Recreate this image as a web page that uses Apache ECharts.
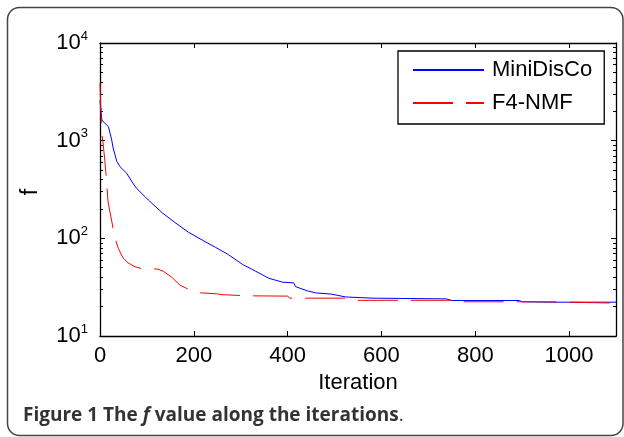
<!DOCTYPE html>
<html>
<head>
<meta charset="utf-8">
<script src="https://cdn.jsdelivr.net/npm/echarts@6/dist/echarts.min.js"></script>
<style>
html,body{margin:0;padding:0;background:#fff;}
#chart{width:624px;height:437px;}
</style>
</head>
<body>
<div id="chart"></div>
<script>
// ---- data ----
const seriesNames = ['MiniDisCo', 'F4-NMF'];
const miniDisCoIter = [0, 2, 4, 7, 18, 25, 28, 36, 43, 57, 68, 78, 96, 103, 133, 160, 188, 218, 246, 274, 304, 332, 360, 389, 413, 417, 442, 460, 492, 524, 582, 738, 750, 894, 900, 956, 1100];
const miniDisCoVal  = [2600, 2000, 1620, 1600, 1390, 1015, 841, 610, 540, 463, 380, 325, 267, 247, 182, 145, 116, 96, 81, 68, 54, 46, 39, 35.6, 35, 32, 29, 27.6, 26.9, 25.1, 24.4, 24.0, 23.1, 23.1, 22.4, 22.2, 22.2];
const f4nmfIter = [0, 1, 2, 3, 4, 6, 8, 10, 12, 14, 15, 17, 20, 25, 32, 39, 49, 60, 75, 90, 102, 122, 135, 153, 171, 196, 214, 250, 260, 314, 400, 405, 524, 540, 760, 770, 956, 960, 1100];
const f4nmfVal  = [3900, 2600, 2000, 1540, 1150, 1000, 800, 650, 500, 400, 330, 240, 200, 150, 100, 79, 63, 56, 51, 49, 49, 48.5, 46, 40, 33, 29, 27.7, 27, 26.5, 25.8, 25.6, 24.4, 24.4, 23.2, 23.2, 22.4, 22.4, 21.7, 21.7];
const xTickValues = [0, 200, 400, 600, 800, 1000];
const yMajorTicks = [10, 100, 1000, 10000];
const yMinorTicks = [20, 30, 40, 50, 60, 70, 80, 90, 200, 300, 400, 500, 600, 700, 800, 900, 2000, 3000, 4000, 5000, 6000, 7000, 8000, 9000];
const xLabel = 'Iteration';
const yLabel = 'f';

const pairs = (xs, ys) => xs.map((x, i) => [x, ys[i]]);

const FONT = 'Liberation Sans';
const axisLineStyle = { color: '#000', width: 1.3 };

function yAxisDef(pos, showLabels, ticks, len, showLine) {
  return {
    type: 'log', logBase: 10, min: 10, max: 10000, position: pos,
    gridIndex: 0,
    axisLine: { show: showLine, lineStyle: axisLineStyle },
    axisTick: { show: true, inside: true, length: len, customValues: ticks, lineStyle: { color: '#000', width: 1 } },
    minorTick: { show: false },
    splitLine: { show: false },
    axisLabel: showLabels ? {
      show: true, margin: 12, customValues: yMajorTicks,
      formatter: function (v) { return '{b|10}{s|' + Math.round(Math.log10(v)) + '}'; },
      rich: {
        b: { fontFamily: FONT, fontSize: 22, color: '#000' },
        s: { fontFamily: FONT, fontSize: 13, color: '#000', padding: [0, 0, 14, 0] }
      }
    } : { show: false }
  };
}

const option = {
  backgroundColor: '#fff',
  animation: false,
  grid: { left: 100, top: 43, right: 8, bottom: 101, containLabel: false },
  graphic: [
    { type: 'rect', shape: { x: 7.5, y: 7.5, width: 615.5, height: 428, r: 12 },
      style: { fill: 'none', stroke: '#444', lineWidth: 1.5 }, z: -1 },
    { type: 'text', x: 31, y: 192, rotation: Math.PI / 2,
      style: { text: yLabel, fontFamily: FONT, fontSize: 23, fill: '#000', align: 'center', verticalAlign: 'middle' } },
    { type: 'text', left: 23, top: 406,
      style: {
        text: '{b|Figure 1 The }{i|f}{b| value along the iterations}{n|.}',
        rich: {
          b: { fontFamily: 'Open Sans', fontWeight: 'bold', fontSize: 19, fill: '#333' },
          i: { fontFamily: 'Open Sans', fontWeight: 'bold', fontStyle: 'italic', fontSize: 19, fill: '#333' },
          n: { fontFamily: 'Open Sans', fontWeight: 'normal', fontSize: 19, fill: '#333' }
        }
      } }
  ],
  legend: {
    orient: 'vertical', left: 398, top: 51,
    data: seriesNames,
    itemWidth: 71, itemHeight: 12, itemGap: 11,
    padding: [8, 12, 10, 14],
    backgroundColor: '#fff', borderColor: '#000', borderWidth: 1.3, borderRadius: 0,
    textStyle: { fontFamily: FONT, fontSize: 22, color: '#000', padding: [0, 0, 0, 3] },
    itemStyle: { opacity: 0 },
    selectedMode: false
  },
  xAxis: [
    { type: 'value', min: 0, max: 1100, position: 'bottom',
      name: xLabel, nameLocation: 'middle', nameGap: 33,
      nameTextStyle: { fontFamily: FONT, fontSize: 22, color: '#000' },
      axisLine: { show: true, lineStyle: axisLineStyle },
      axisTick: { show: true, inside: true, length: 5, customValues: xTickValues, lineStyle: { color: '#000' } },
      axisLabel: { show: true, customValues: xTickValues, margin: 9, fontFamily: FONT, fontSize: 22, color: '#000',
        formatter: function (v) { return String(v); } },
      splitLine: { show: false } },
    { type: 'value', min: 0, max: 1100, position: 'top',
      axisLine: { show: true, lineStyle: axisLineStyle },
      axisTick: { show: true, inside: true, length: 5, customValues: xTickValues, lineStyle: { color: '#000' } },
      axisLabel: { show: false }, splitLine: { show: false } }
  ],
  yAxis: [
    yAxisDef('left', true, yMajorTicks, 5, true),
    yAxisDef('left', false, yMinorTicks, 3, false),
    yAxisDef('right', false, yMajorTicks, 5, true),
    yAxisDef('right', false, yMinorTicks, 3, false)
  ],
  series: [
    { name: seriesNames[0], type: 'line', xAxisIndex: 0, yAxisIndex: 0,
      data: pairs(miniDisCoIter, miniDisCoVal),
      symbol: 'none', showSymbol: false,
      lineStyle: { color: '#0000ff', width: 1 }, itemStyle: { color: '#0000ff' }, z: 2 },
    { name: seriesNames[1], type: 'line', xAxisIndex: 0, yAxisIndex: 0,
      data: pairs(f4nmfIter, f4nmfVal),
      symbol: 'none', showSymbol: false,
      lineStyle: { color: '#ff0000', width: 1, type: [40, 13] }, itemStyle: { color: '#ff0000' }, z: 3 }
  ]
};

const chart = echarts.init(document.getElementById('chart'), null, { renderer: 'canvas' });
chart.setOption(option);
</script>
</body>
</html>
